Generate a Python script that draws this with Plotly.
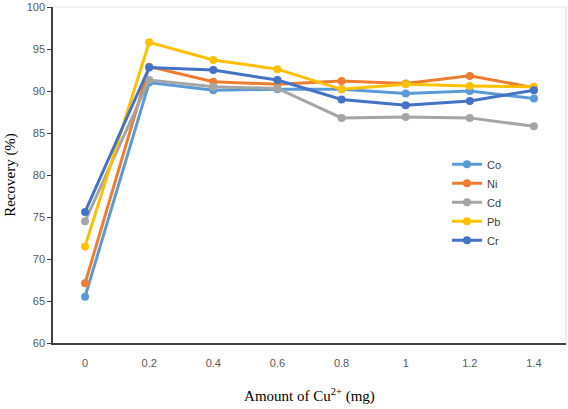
import plotly.graph_objects as go

x_labels = ["0", "0.2", "0.4", "0.6", "0.8", "1", "1.2", "1.4"]
co = [65.5, 91.0, 90.1, 90.2, 90.2, 89.7, 90.0, 89.1]
ni = [67.1, 92.9, 91.1, 90.8, 91.2, 90.9, 91.8, 90.4]
cd = [74.5, 91.3, 90.5, 90.3, 86.8, 86.9, 86.8, 85.8]
pb = [71.5, 95.8, 93.7, 92.6, 90.2, 90.8, 90.6, 90.5]
cr = [75.6, 92.8, 92.5, 91.3, 89.0, 88.3, 88.8, 90.1]
y_ticks = [60, 65, 70, 75, 80, 85, 90, 95, 100]

series = [("Co", co, "#5B9BD5"), ("Ni", ni, "#ED7D31"), ("Cd", cd, "#A5A5A5"),
          ("Pb", pb, "#FFC000"), ("Cr", cr, "#4472C4")]

fig = go.Figure()
for name, vals, col in series:
    fig.add_trace(go.Scatter(x=x_labels, y=vals, name=name, mode="lines+markers",
                             line=dict(color=col, width=3),
                             marker=dict(color=col, size=8)))

fig.update_layout(
    width=568, height=409,
    margin=dict(l=53, r=2, t=7, b=66),
    paper_bgcolor="white", plot_bgcolor="white",
    font=dict(family="Liberation Sans, Open Sans, sans-serif", size=11, color="#595959"),
    showlegend=True,
    legend=dict(x=0.768, y=0.575, xanchor="left", yanchor="top",
                font=dict(size=11, color="#404040"), bgcolor="rgba(0,0,0,0)",
                itemwidth=30, tracegroupgap=0),
    xaxis=dict(type="category", range=[-0.5, 7.5], showline=True, linecolor="#404040",
               linewidth=1.5, showgrid=False, ticks="", ticklabelstandoff=9,
               automargin=False,
               tickfont=dict(size=11, color="#595959"),
               title=dict(text="Amount of Cu<sup>2+</sup> (mg)", standoff=23,
                          font=dict(family="Liberation Serif, Times New Roman, serif", size=15, color="black"))),
    yaxis=dict(range=[60, 100], tickmode="array", tickvals=y_ticks, showline=True,
               linecolor="#404040", linewidth=1.5, automargin=False,
               showgrid=False, ticks="outside", ticklen=4, tickcolor="#404040",
               tickfont=dict(size=11, color="#595959"),
               title=dict(text="Recovery (%)", standoff=7,
                          font=dict(family="Liberation Serif, Times New Roman, serif", size=15, color="black"))),
)
fig.add_shape(type="line", xref="paper", yref="paper", x0=0, x1=1.0, y0=1.0, y1=1.0,
              line=dict(color="#e3e3e3", width=1), layer="below")
fig.add_shape(type="line", xref="paper", yref="paper", x0=1.0, x1=1.0, y0=0, y1=1.0,
              line=dict(color="#d9d9d9", width=1), layer="below")
fig.write_html("out.html", config={"displayModeBar": False},
               post_script="document.body.style.margin='0px';")
